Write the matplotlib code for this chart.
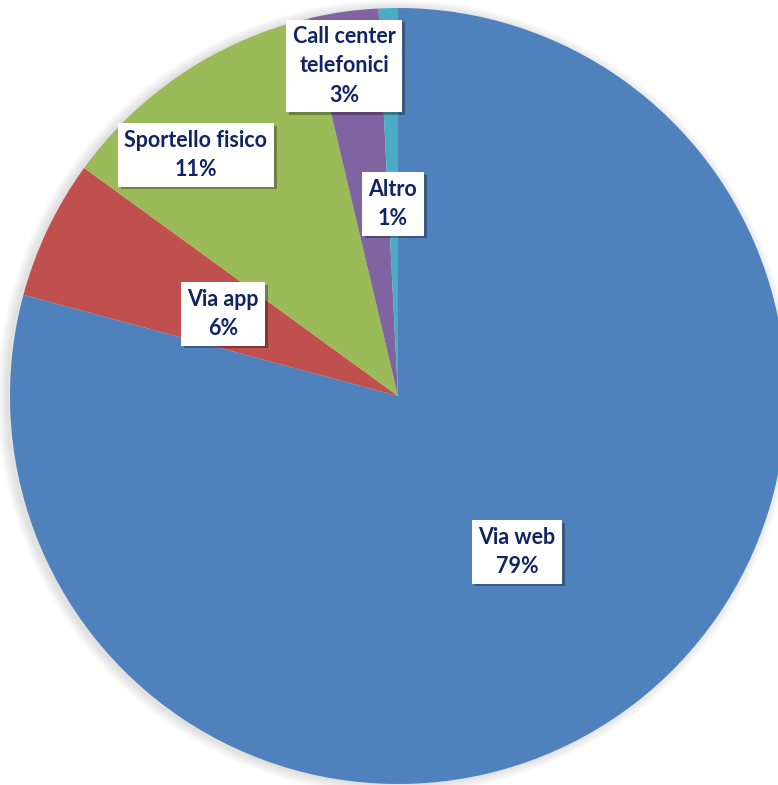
import matplotlib
matplotlib.use("Agg")
import matplotlib.pyplot as plt
import matplotlib.patheffects as pe

labels = ["Via web", "Via app", "Sportello fisico", "Call center\ntelefonici", "Altro"]
values = [79.2, 5.8, 11.3, 2.9, 0.8]
colors = ["#4F81BD", "#C0504D", "#9BBB59", "#8064A2", "#4BACC6"]
# label box centres in pixels (from top-left)
label_pos = [(517, 552), (223, 314), (196, 155), (344, 66), (393, 204)]

W, H = 778, 785
fig = plt.figure(figsize=(W / 100, H / 100), dpi=100)
ax = fig.add_axes([0, 0, 1, 1])

cx, cy, r = 398, H - 396, 388

# soft shadow behind the pie, mostly on the left
for k in range(10):
    sh = plt.Circle((cx - 3, cy - 1), r + 10 - k, color="black", alpha=0.012, lw=0)
    ax.add_patch(sh)

wedges, _ = ax.pie(values, colors=colors, startangle=90, counterclock=False,
                   radius=r, center=(cx, cy), frame=True,
                   wedgeprops=dict(linewidth=0))
ax.set_xlim(0, W)
ax.set_ylim(0, H)
ax.set_aspect("equal")
ax.axis("off")

for lab, v, (px, py) in zip(labels, values, label_pos):
    t = ax.text(px, H - py, f"{lab}\n{round(v)}%", ha="center", va="center",
                fontsize=15.5, fontweight="bold", family="Lato", color="#102463",
                linespacing=1.5,
                bbox=dict(boxstyle="square,pad=0.3", fc="white", ec="none"))
    t.get_bbox_patch().set_path_effects([
        pe.SimplePatchShadow(offset=(2, -2), alpha=0.3, shadow_rgbFace="black"),
        pe.Normal()])

fig.savefig("out.png", dpi=100)
